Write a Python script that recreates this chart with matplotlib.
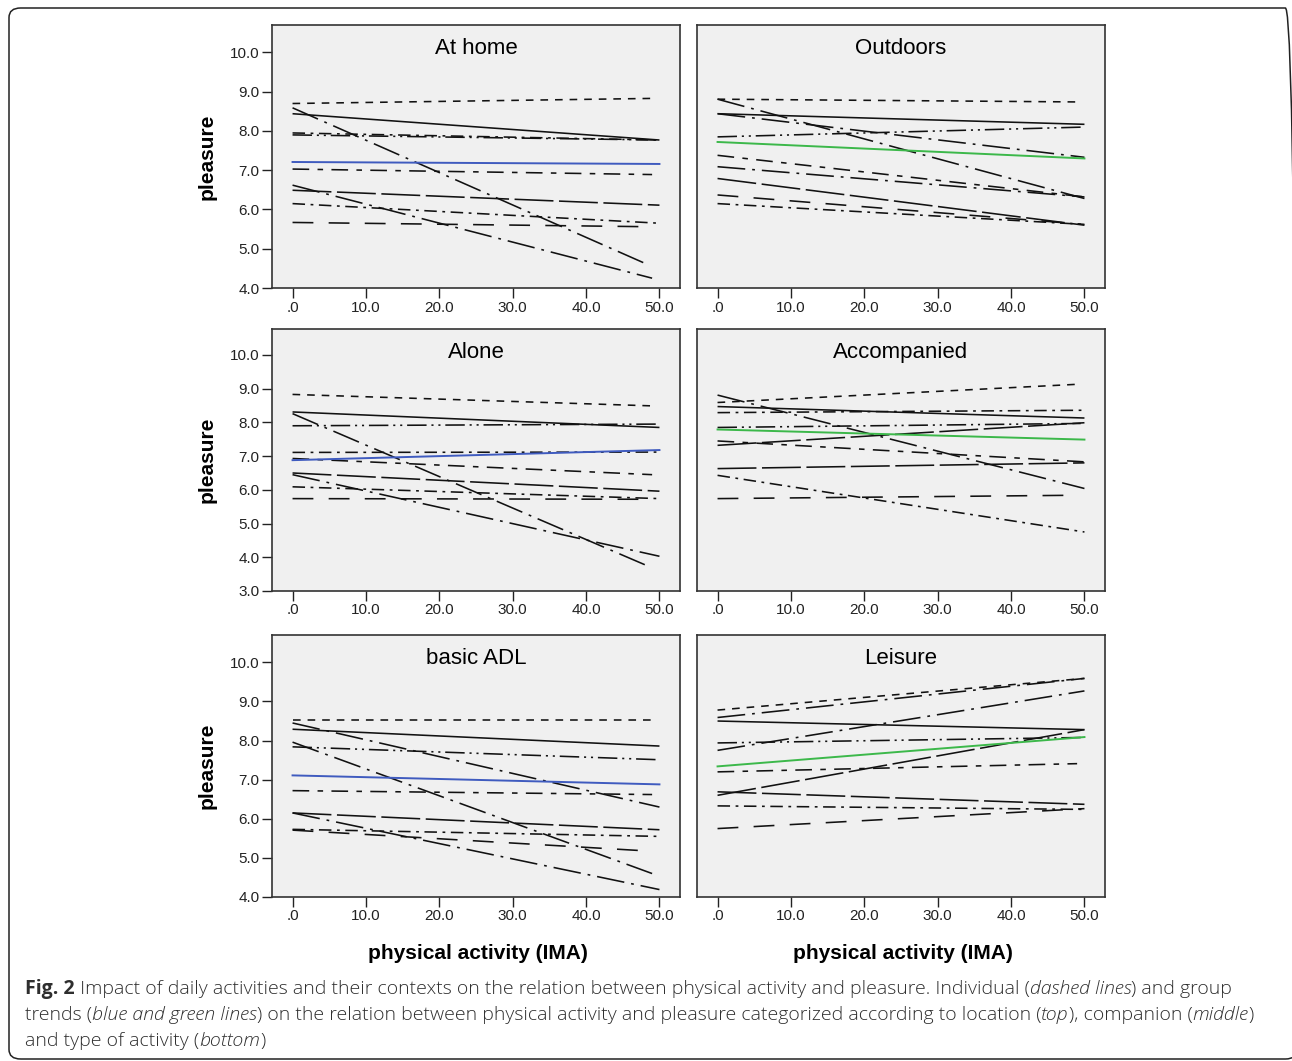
import matplotlib
matplotlib.use('Agg')
import matplotlib.pyplot as plt
from matplotlib.patches import FancyBboxPatch
from matplotlib.font_manager import FontProperties

plt.rcParams['font.family'] = ['Liberation Sans', 'DejaVu Sans']
plt.rcParams['lines.scale_dashes'] = False

W, H = 1292, 1061

# x ticks shared by every panel
x_ticks = [0, 10, 20, 30, 40, 50]
x_tick_labels = ['.0', '10.0', '20.0', '30.0', '40.0', '50.0']

# ---- individual trend lines: pleasure at activity 0 and at line end ----
home_start = [8.70, 8.44, 7.95, 7.90, 7.03, 8.59, 6.49, 6.62, 6.15, 5.67]
home_end = [8.83, 7.77, 7.77, 7.77, 6.89, 4.63, 6.11, 4.25, 5.65, 5.56]
home_xend = [49, 50, 50, 50, 49, 48, 50, 49, 50, 49]
home_group = [7.21, 7.16]

out_start = [8.81, 8.81, 8.44, 8.44, 7.85, 7.38, 7.09, 6.79, 6.37, 6.15]
out_end = [8.74, 6.28, 8.17, 7.33, 8.10, 6.32, 6.32, 5.60, 5.62, 5.62]
out_xend = [49, 50, 50, 50, 50, 50, 50, 50, 50, 50]
out_group = [7.72, 7.30]

alone_start = [8.83, 8.31, 7.90, 8.26, 7.11, 6.93, 6.50, 6.45, 6.09, 5.74]
alone_end = [8.49, 7.85, 7.95, 3.78, 7.12, 6.45, 5.96, 4.03, 5.74, 5.72]
alone_xend = [49, 50, 50, 48, 50, 49, 50, 50, 50, 49]
alone_group = [6.88, 7.18]

acc_start = [8.59, 8.81, 8.47, 8.29, 7.85, 7.32, 7.45, 6.63, 6.43, 5.74]
acc_end = [9.13, 6.04, 8.13, 8.36, 7.97, 7.99, 6.83, 6.80, 4.75, 5.84]
acc_xend = [49, 50, 50, 50, 50, 50, 50, 50, 50, 49]
acc_group = [7.79, 7.49]

adl_start = [8.52, 8.45, 8.29, 7.84, 7.96, 6.72, 6.15, 6.15, 5.73, 5.71]
adl_end = [8.52, 6.30, 7.86, 7.51, 4.60, 6.62, 5.72, 4.19, 5.55, 5.17]
adl_xend = [49, 50, 50, 50, 49, 49, 50, 50, 50, 49]
adl_group = [7.11, 6.88]

leis_start = [8.78, 8.59, 8.50, 7.75, 7.94, 6.60, 7.20, 6.69, 6.33, 5.75]
leis_end = [9.59, 9.59, 8.28, 9.27, 8.08, 8.28, 7.41, 6.37, 6.24, 6.26]
leis_xend = [50, 50, 50, 50, 50, 50, 49, 50, 50, 50]
leis_group = [7.34, 8.09]

# line styles (in points)
dashes = {
    'short': (0, (5.5, 5)),
    'solid': '-',
    'dashdotdot': (0, (14, 3.5, 1.5, 3.5, 1.5, 3.5)),
    'dashdot_long': (0, (20, 5, 2, 5)),
    'dash_mixed': (0, (12, 6, 4, 6)),
    'longdash': (0, (28, 4)),
    'dashdot': (0, (9, 4, 2, 4)),
    'longgap': (0, (15, 11)),
}
home_styles = ['short', 'solid', 'dashdot', 'dashdotdot', 'dash_mixed',
               'dashdot_long', 'longdash', 'dashdot_long', 'dashdot', 'longgap']
out_styles = ['short', 'dashdot_long', 'solid', 'dashdot_long', 'dashdotdot',
              'dash_mixed', 'dashdot_long', 'longdash', 'longgap', 'dashdot']
alone_styles = ['short', 'solid', 'dashdotdot', 'dashdot_long', 'dashdot',
                'dash_mixed', 'longdash', 'dashdot_long', 'dashdot', 'longgap']
acc_styles = ['short', 'dashdot_long', 'solid', 'dashdot', 'dashdotdot',
              'longdash', 'dash_mixed', 'longdash', 'dashdot', 'longgap']
adl_styles = ['short', 'dashdot_long', 'solid', 'dashdotdot', 'dashdot_long',
              'dash_mixed', 'longdash', 'dashdot_long', 'dashdot', 'longgap']
leis_styles = ['short', 'dashdot_long', 'solid', 'dashdot_long', 'dashdotdot',
               'longdash', 'dash_mixed', 'longdash', 'dashdot', 'longgap']

BLUE = '#3f5bbf'
GREEN = '#3cb84a'


def px_axes(left, top, right, bottom):
    return [left / W, 1 - bottom / H, (right - left) / W, (bottom - top) / H]


def draw_panel(ax, title, starts, ends, xends, styles, group, gcolor, ylim, show_y):
    ax.set_facecolor('#f0f0f0')
    for a, b, xe, st in zip(starts, ends, xends, styles):
        ax.plot([0, xe], [a, b], color='#111111', lw=1.15, linestyle=dashes[st],
                dash_capstyle='butt', solid_capstyle='butt')
    ax.plot([0, 50], group, color=gcolor, lw=1.4)
    ax.set_xlim(-2.8, 52.8)
    ax.set_ylim(*ylim)
    ax.set_xticks(x_ticks)
    ax.set_xticklabels(x_tick_labels)
    ax.tick_params(direction='out', length=7, width=1, pad=2, labelsize=11,
                   colors='#222222')
    if show_y:
        yt = list(range(int(ylim[0]), 11))
        ax.set_yticks(yt)
        ax.set_yticklabels([f'{v:.1f}' for v in yt])
        ax.set_ylabel('pleasure', fontsize=15, fontweight='bold')
        ax.yaxis.set_label_coords(-0.137, 0.5)
    else:
        ax.set_yticks([])
    for s in ax.spines.values():
        s.set_color('#333333')
        s.set_linewidth(1.2)
    bb = ax.get_position()
    ax.text(0.5, 1 - 23 / (bb.height * H), title, transform=ax.transAxes,
            ha='center', va='center', fontsize=16)


fig = plt.figure(figsize=(W / 100, H / 100), dpi=100)

frame = FancyBboxPatch((9 / W, 1 - 1059 / H), (1297 - 9) / W, (1059 - 8) / H,
                       boxstyle='round,pad=0,rounding_size=0.009',
                       transform=fig.transFigure, facecolor='none',
                       edgecolor='#222222', lw=1.1, clip_on=False)
fig.patches.append(frame)

rows = [(25, 288, (4, 10.7)), (329, 591, (3, 10.77)), (635, 897, (4, 10.7))]
cols = [(272, 680), (697, 1105)]

panels = [
    ('At home', home_start, home_end, home_xend, home_styles, home_group, BLUE),
    ('Outdoors', out_start, out_end, out_xend, out_styles, out_group, GREEN),
    ('Alone', alone_start, alone_end, alone_xend, alone_styles, alone_group, BLUE),
    ('Accompanied', acc_start, acc_end, acc_xend, acc_styles, acc_group, GREEN),
    ('basic ADL', adl_start, adl_end, adl_xend, adl_styles, adl_group, BLUE),
    ('Leisure', leis_start, leis_end, leis_xend, leis_styles, leis_group, GREEN),
]

for i, (title, st, en, xe, sty, grp, col) in enumerate(panels):
    top, bottom, ylim = rows[i // 2]
    left, right = cols[i % 2]
    ax = fig.add_axes(px_axes(left, top, right, bottom))
    draw_panel(ax, title, st, en, xe, sty, grp, col, ylim, show_y=(i % 2 == 0))

for cx in (478, 903):
    fig.text(cx / W, 1 - 959 / H, 'physical activity (IMA)', ha='center',
             va='baseline', fontsize=15, fontweight='bold')

# caption, drawn piece by piece so bold/italic parts can be mixed
cap_family = ['Open Sans', 'DejaVu Sans']
cap_size = 14
caption = [
    (994, [('Fig. 2', 'b'),
           (' Impact of daily activities and their contexts on the relation between '
            'physical activity and pleasure. Individual (', 'n'),
           ('dashed lines', 'i'), (') and group', 'n')]),
    (1020, [('trends (', 'n'), ('blue and green lines', 'i'),
            (') on the relation between physical activity and pleasure categorized '
             'according to location (', 'n'),
            ('top', 'i'), ('), companion (', 'n'), ('middle', 'i'), (')', 'n')]),
    (1046, [('and type of activity (', 'n'), ('bottom', 'i'), (')', 'n')]),
]

renderer = fig.canvas.get_renderer()


def piece_width(text, prop):
    w1, _, _ = renderer.get_text_width_height_descent('|' + text + '|', prop, ismath=False)
    w0, _, _ = renderer.get_text_width_height_descent('||', prop, ismath=False)
    return w1 - w0


for y, pieces in caption:
    x = 25
    for text, kind in pieces:
        prop = FontProperties(family=cap_family, size=cap_size,
                              weight='bold' if kind == 'b' else 'light',
                              style='italic' if kind == 'i' else 'normal')
        fig.text(x / W, 1 - y / H, text, fontproperties=prop, color='#2e2e2e',
                 ha='left', va='baseline')
        x += piece_width(text, prop)

fig.savefig('out.png', dpi=100)
